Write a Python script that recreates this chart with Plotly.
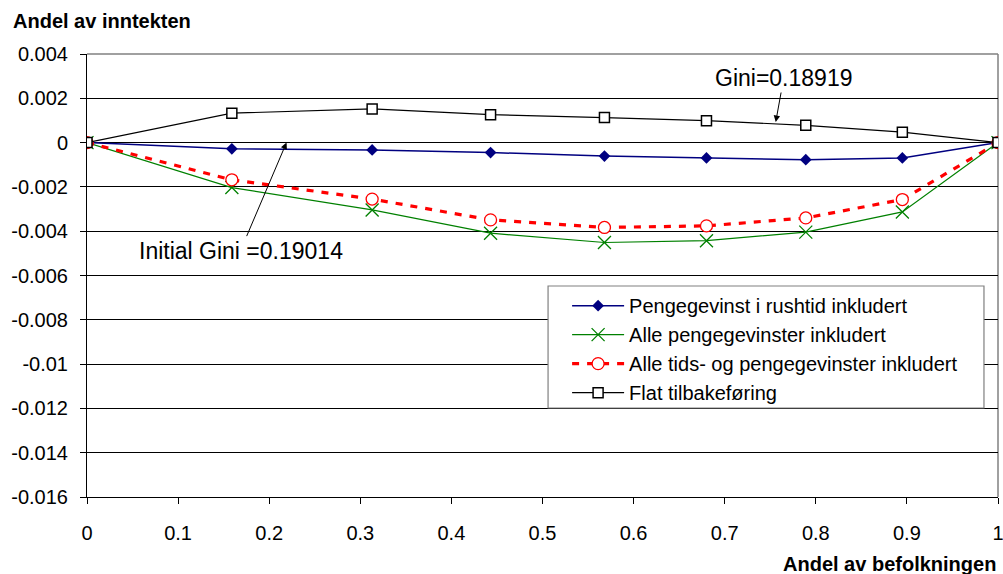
import plotly.graph_objects as go

# Cumulative population share (x) and income-share change (y) per series
befolkning = [0, 0.159, 0.313, 0.443, 0.568, 0.680, 0.789, 0.895, 1.0]
rushtid = [0, -0.00028, -0.00033, -0.00045, -0.00061, -0.00069, -0.00077, -0.00069, 0]
alle_penge = [0, -0.00203, -0.00304, -0.00409, -0.00451, -0.00443, -0.00404, -0.00313, 0]
alle_tid_penge = [0, -0.00168, -0.00255, -0.00349, -0.00383, -0.00376, -0.00340, -0.00257, 0]
flat = [0, 0.00133, 0.00152, 0.00126, 0.00113, 0.00099, 0.00078, 0.00047, 0]

serie_navn = [
    "Pengegevinst i rushtid inkludert",
    "Alle pengegevinster inkludert",
    "Alle tids- og pengegevinster inkludert",
    "Flat tilbakeføring",
]

x_ticks = [0, 0.1, 0.2, 0.3, 0.4, 0.5, 0.6, 0.7, 0.8, 0.9, 1.0]
x_ticktext = ["0", "0.1", "0.2", "0.3", "0.4", "0.5", "0.6", "0.7", "0.8", "0.9", "1"]
y_ticks = [0.004, 0.002, 0, -0.002, -0.004, -0.006, -0.008, -0.01, -0.012, -0.014, -0.016]
y_ticktext = ["0.004", "0.002", "0", "-0.002", "-0.004", "-0.006", "-0.008",
              "-0.01", "-0.012", "-0.014", "-0.016"]

gini_flat_tekst = "Gini=0.18919"
gini_init_tekst = "Initial Gini =0.19014"

FONT = "Liberation Sans, Arial, sans-serif"

fig = go.Figure()

fig.add_trace(go.Scatter(
    x=befolkning, y=rushtid, name=serie_navn[0], mode="lines+markers",
    line=dict(color="#000080", width=1.5),
    marker=dict(symbol="diamond", size=9, color="#000080"),
))
fig.add_trace(go.Scatter(
    x=befolkning, y=alle_penge, name=serie_navn[1], mode="lines+markers",
    line=dict(color="#008000", width=1.2),
    marker=dict(symbol="x-thin-open", size=13, color="#008000",
                line=dict(color="#008000", width=1.3)),
))
fig.add_trace(go.Scatter(
    x=befolkning, y=alle_tid_penge, name=serie_navn[2], mode="lines+markers",
    line=dict(color="#ff0000", width=3.2, dash="7px,8px"),
    marker=dict(symbol="circle", size=12, color="white",
                line=dict(color="#ff0000", width=1.3)),
))
fig.add_trace(go.Scatter(
    x=befolkning, y=flat, name=serie_navn[3], mode="lines+markers",
    line=dict(color="#000000", width=1.2),
    marker=dict(symbol="square", size=10, color="white",
                line=dict(color="#000000", width=1.5)),
))

# Gray frame on top and right of the plot area
fig.add_shape(type="line", xref="paper", yref="paper", x0=0, x1=1, y0=1, y1=1,
              line=dict(color="#808080", width=1.5), layer="between")
fig.add_shape(type="line", xref="paper", yref="paper", x0=1, x1=1, y0=0, y1=1,
              line=dict(color="#808080", width=1.5), layer="between")

# Legend frame (white box with gray border behind the legend entries)
fig.add_shape(type="rect", xref="paper", yref="paper",
              x0=0.5061, x1=0.9846, y0=0.2009, y1=0.4763,
              fillcolor="white", line=dict(color="#808080", width=1.2), layer="above")

fig.add_annotation(
    x=0.756, y=0.00093, xref="x", yref="y", text=gini_flat_tekst,
    showarrow=True, ax=8, ay=-44, arrowhead=2, arrowsize=1.3, arrowwidth=1,
    arrowcolor="black", font=dict(family=FONT, size=23, color="black"),
)
fig.add_annotation(
    x=0.219, y=0, xref="x", yref="y", text=gini_init_tekst,
    showarrow=True, ax=-46, ay=108, arrowhead=2, arrowsize=1.3, arrowwidth=1,
    arrowcolor="black", font=dict(family=FONT, size=23, color="black"),
)

# Axis titles
fig.add_annotation(
    x=-0.0834, y=1.0745, xref="paper", yref="paper", text="<b>Andel av inntekten</b>",
    showarrow=False, xanchor="left", yanchor="middle",
    font=dict(family=FONT, size=20, color="black"),
)
fig.add_annotation(
    x=1.0, y=-0.151, xref="paper", yref="paper", text="<b>Andel av befolkningen</b>",
    showarrow=False, xanchor="right", yanchor="middle",
    font=dict(family=FONT, size=20, color="black"),
)

fig.update_layout(
    width=1003, height=574,
    margin=dict(l=87, r=5, t=54, b=77, autoexpand=False),
    paper_bgcolor="white", plot_bgcolor="white",
    font=dict(family=FONT, size=20, color="black"),
    showlegend=True,
    legend=dict(
        x=0.527, y=0.476, xanchor="left", yanchor="top",
        bgcolor="rgba(0,0,0,0)", borderwidth=0,
        font=dict(family=FONT, size=20, color="black"),
        itemwidth=52,
    ),
    xaxis=dict(
        range=[0, 1], tickvals=x_ticks, ticktext=x_ticktext,
        showgrid=False, zeroline=False, showline=True, linecolor="black", linewidth=1,
        ticks="outside", ticklen=6, tickcolor="black", ticklabelstandoff=12,
        ticklabeloverflow="allow", automargin=False,
    ),
    yaxis=dict(
        range=[-0.016, 0.004], tickvals=y_ticks, ticktext=y_ticktext,
        showgrid=True, gridcolor="black", gridwidth=1, zeroline=False,
        showline=True, linecolor="black", linewidth=1,
        ticks="outside", ticklen=6, tickcolor="black", ticklabelstandoff=8,
        automargin=False,
    ),
)

fig.write_html("out.html")
